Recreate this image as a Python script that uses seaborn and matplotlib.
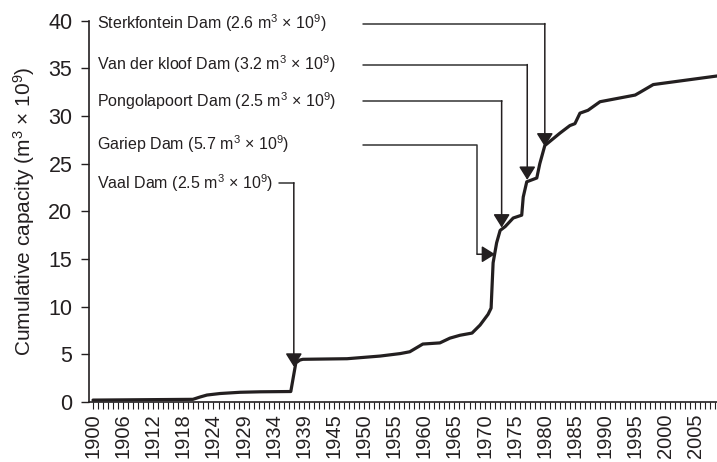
import matplotlib
matplotlib.use("Agg")
import matplotlib.pyplot as plt
import seaborn as sns
import pandas as pd

# ---------------- data ----------------
tick_labels = ["1900", "1906", "1912", "1918", "1924", "1929", "1934", "1939",
               "1945", "1950", "1955", "1960", "1965", "1970", "1975", "1980",
               "1985", "1990", "1995", "2000", "2005"]
label_step = 6
n_categories = 125

# cumulative capacity along the (categorical) year axis, category index -> value
curve_pos = [0.0, 19.9, 21.3, 22.7, 25.3, 29.3, 33.3, 39.4, 39.8, 40.4, 41.2,
             41.8, 50.6, 57.2, 61.2, 63.1, 65.7, 69.1, 71.1, 73.1, 75.5, 77.1,
             78.7, 79.3, 79.7, 80.4, 81.1, 82.1, 83.7, 85.4, 85.7, 86.4, 88.4,
             89.0, 90.0, 93.0, 95.0, 96.0, 97.0, 98.6, 101.0, 108.0, 109.0,
             111.6, 124.3]
curve_val = [0.2, 0.28, 0.52, 0.73, 0.89, 1.02, 1.07, 1.10, 2.3, 4.1, 4.4,
             4.48, 4.54, 4.82, 5.08, 5.27, 6.08, 6.2, 6.7, 7.0, 7.23, 8.07,
             9.2, 9.85, 14.6, 16.7, 18.0, 18.4, 19.3, 19.6, 21.5, 23.1, 23.5,
             25.0, 26.9, 28.2, 29.0, 29.2, 30.3, 30.6, 31.5, 32.2, 32.5,
             33.3, 34.2]

dam_names = ["Sterkfontein Dam", "Van der kloof Dam", "Pongolapoort Dam",
             "Gariep Dam", "Vaal Dam"]
dam_capacity = ["2.6", "3.2", "2.5", "5.7", "2.5"]
dam_tip_pos = [90.0, 86.5, 81.4, 80.1, 40.0]
dam_tip_val = [26.8, 23.3, 18.3, 15.5, 3.7]
dam_label_level = [39.7, 35.4, 31.6, 27.0, 23.0]

# ---------------- style ----------------
sns.set_theme(style="ticks")
plt.rcParams["font.family"] = ["Liberation Sans", "DejaVu Sans"]
plt.rcParams["mathtext.fontset"] = "custom"
plt.rcParams["mathtext.rm"] = "Liberation Sans"
plt.rcParams["mathtext.it"] = "Liberation Sans:italic"
plt.rcParams["mathtext.bf"] = "Liberation Sans:bold"

ink = "#231f20"
W, H = 717, 462
fig = plt.figure(figsize=(W / 100, H / 100), dpi=100)
ax = fig.add_axes([89 / W, 60 / H, (717 - 89) / W, (402 - 20.7) / H])

df = pd.DataFrame({"pos": curve_pos, "val": curve_val})
sns.lineplot(data=df, x="pos", y="val", color=ink, lw=2.3, ax=ax,
             estimator=None, sort=False, solid_joinstyle="round")

ax.set_xlim(-0.8, 124.3)
ax.set_ylim(0, 40)

xt = list(range(n_categories))
xl = [tick_labels[i // label_step] if i % label_step == 0 and i // label_step < len(tick_labels) else ""
      for i in xt]
ax.set_xticks(xt)
ax.set_xticklabels(xl, rotation=90, fontsize=14.5, color=ink)
ax.set_yticks(range(0, 41, 5))
ax.set_yticklabels([str(v) for v in range(0, 41, 5)], fontsize=15.5, color=ink)
ax.tick_params(axis="x", length=5, width=0.8, pad=3, colors=ink)
ax.tick_params(axis="y", length=6, width=1.0, pad=6, colors=ink)
ax.set_xlabel("")
ax.set_ylabel("Cumulative capacity (m$^3$ $\\times$ 10$^9$)", fontsize=15,
              color=ink, labelpad=8)

for s in ["top", "right"]:
    ax.spines[s].set_visible(False)
for s in ["left", "bottom"]:
    ax.spines[s].set_color(ink)
    ax.spines[s].set_linewidth(1.2)

# ---------------- annotations ----------------
line_col = "#333333"
arrow_kw = dict(arrowstyle="-|>,head_length=0.45,head_width=0.28", color=ink,
                lw=1.1, shrinkA=0, shrinkB=0, mutation_scale=18)
for name, cap, tp, tv, lev in zip(dam_names, dam_capacity, dam_tip_pos,
                                  dam_tip_val, dam_label_level):
    ax.text(0.8, lev, f"{name} ({cap} m$^3$ $\\times$ 10$^9$)", fontsize=11.5,
            color=ink, ha="left", va="center")
    if name == "Vaal Dam":
        start = 37.0
    else:
        start = 53.8
    if name == "Gariep Dam":
        corner = 76.5
        ax.plot([start, corner, corner], [lev, lev, tv], color=line_col, lw=1.1)
        ax.annotate("", xy=(tp, tv), xytext=(corner, tv), arrowprops=arrow_kw)
    else:
        ax.plot([start, tp], [lev, lev], color=line_col, lw=1.1)
        ax.annotate("", xy=(tp, tv), xytext=(tp, lev), arrowprops=arrow_kw)

fig.savefig("out.png", dpi=100)
